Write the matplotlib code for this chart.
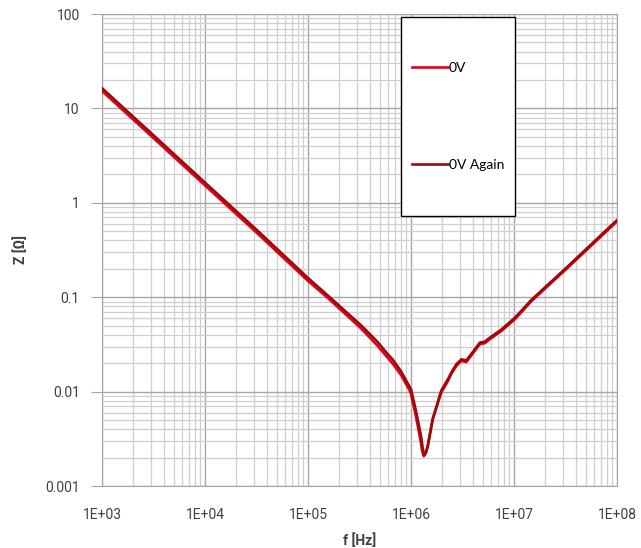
import matplotlib
matplotlib.use("Agg")
import matplotlib.pyplot as plt
from matplotlib.patches import Rectangle
from matplotlib.ticker import FuncFormatter, LogLocator

# values
freq_again = [1e3, 3.16e3, 1e4, 3.16e4, 1e5, 1.58e5, 3.27e5, 4.75e5, 6.03e5, 6.67e5,
              8.04e5, 1.0e6, 1.12e6, 1.26e6, 1.30e6, 1.35e6, 1.40e6, 1.46e6, 1.63e6,
              1.97e6, 2.29e6, 2.47e6, 2.76e6, 3.09e6, 3.45e6, 4.16e6, 4.66e6, 5.2e6,
              5.82e6, 7.57e6, 1.02e7, 1.48e7, 3.16e7, 1e8]
z_again = [16.4, 5.2, 1.64, 0.52, 0.16, 0.103, 0.0505, 0.0335, 0.0245, 0.0218,
           0.0163, 0.0106, 0.0062, 0.00326, 0.0025, 0.00212, 0.00225, 0.0027, 0.00518,
           0.0103, 0.0136, 0.016, 0.0195, 0.022, 0.0214, 0.028, 0.033, 0.0338,
           0.0372, 0.0456, 0.0605, 0.094, 0.201, 0.656]

freq_0v = [1e3, 3.16e3, 1e4, 3.16e4, 1e5, 1.58e5, 3.27e5, 4.75e5, 6.67e5, 8.04e5,
           9.89e5, 1.11e6, 1.24e6, 1.28e6, 1.33e6, 1.38e6, 1.45e6, 1.62e6, 1.97e6,
           2.29e6, 2.47e6, 2.76e6, 3.09e6, 3.45e6, 4.16e6, 4.66e6, 5.2e6, 5.82e6,
           7.57e6, 1.02e7, 1.48e7, 3.16e7, 1e8]
z_0v = [15.3, 4.85, 1.53, 0.485, 0.149, 0.097, 0.0468, 0.0305, 0.0197, 0.0149,
        0.0099, 0.0057, 0.003, 0.0024, 0.00207, 0.00222, 0.0026, 0.00505, 0.0098,
        0.013, 0.0155, 0.0187, 0.0212, 0.0206, 0.027, 0.0318, 0.0326, 0.0359,
        0.044, 0.0584, 0.091, 0.195, 0.635]

labels = ["0V", "0V Again"]
colors = ["#e3001b", "#9b0a0a"]

plt.rcParams['font.family'] = ['Roboto', 'DejaVu Sans']

fig = plt.figure(figsize=(6.41, 5.48), dpi=100)
ax = fig.add_axes([0.1591, 0.1131, 0.8034, 0.8613])

ax.plot(freq_0v, z_0v, color=colors[0], lw=1.9, label=labels[0], zorder=3)
ax.plot(freq_again, z_again, color=colors[1], lw=1.9, label=labels[1], zorder=3)

ax.set_xscale('log')
ax.set_yscale('log')
ax.set_xlim(1e3, 1e8)
ax.set_ylim(1e-3, 100)

ax.xaxis.set_minor_locator(LogLocator(base=10, subs=range(2, 10), numticks=20))
ax.yaxis.set_minor_locator(LogLocator(base=10, subs=range(2, 10), numticks=20))
ax.xaxis.set_major_formatter(FuncFormatter(lambda v, p: f"{v:.0E}"))
ax.yaxis.set_major_formatter(FuncFormatter(lambda v, p: f"{v:g}"))

ax.grid(which='major', color='#a6a6a6', lw=1.0)
ax.grid(which='minor', color='#cfcfcf', lw=0.9)
ax.set_axisbelow(True)
for s in ax.spines.values():
    s.set_color('#a6a6a6')

ax.tick_params(axis='y', which='major', length=8, color='#a6a6a6', pad=8,
               labelsize=10, labelcolor='#404040')
ax.tick_params(axis='x', which='major', length=0, pad=16,
               labelsize=10, labelcolor='#404040')
ax.tick_params(which='minor', length=0)

ax.set_xlabel("f [Hz]", fontsize=10, fontweight='bold', color='#404040', labelpad=8)
ax.set_ylabel("Z [Ω]", fontsize=10, fontweight='bold', color='#404040', labelpad=12)

# legend box
ax.add_patch(Rectangle((0.581, 0.572), 0.221, 0.4216, transform=ax.transAxes,
                       facecolor='white', edgecolor='black', lw=1.0, zorder=4))
ax.legend(loc='upper left', bbox_to_anchor=(0.578, 0.925), frameon=False,
          handlelength=2.6, handletextpad=0.05, labelspacing=6.1,
          prop={'family': 'Lato', 'size': 10})

fig.savefig("out.png", dpi=100)
